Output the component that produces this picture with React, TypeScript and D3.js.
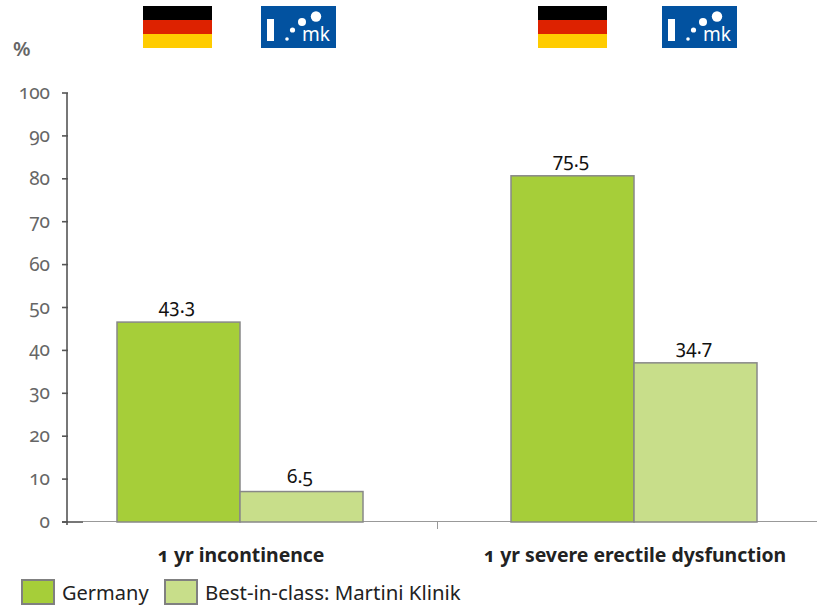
import React from "react";
import * as d3 from "d3";

const categories = ["1 yr incontinence", "1 yr severe erectile dysfunction"];
const seriesNames = ["Germany", "Best-in-class: Martini Klinik"];
const germanyBars = [46.6, 80.7];
const martiniBars = [7.1, 37.1];
const germanyLabels = ["43.3", "75.5"];
const martiniLabels = ["6.5", "34.7"];
const yTicks = d3.range(0, 101, 10);
const flagStripes = ["#000000", "#dd2200", "#ffcc00"];
const colors = ["#a6ce39", "#c8de8a"];
const font = "'Noto Sans', 'Open Sans', sans-serif";

const y = d3.scaleLinear().domain([0, 100]).range([522, 93]);
const x0 = d3.scaleBand().domain(categories).range([43, 831]);
const x1 = d3.scaleBand().domain(seriesNames).range([74, 320]);

function Flag({ x }: { x: number }) {
  return (
    <g>
      {flagStripes.map((c, i) => (
        <rect key={c} x={x} y={6 + i * 14} width={69} height={14} fill={c} />
      ))}
    </g>
  );
}

function Logo({ x }: { x: number }) {
  return (
    <g>
      <rect x={x} y={6} width={75} height={42} fill="#0252a0" />
      <rect x={x + 6} y={19} width={7} height={22} fill="#fff" />
      <circle cx={x + 26} cy={39} r={1.8} fill="#fff" />
      <circle cx={x + 31.5} cy={30} r={2.6} fill="#fff" />
      <circle cx={x + 41} cy={22} r={4} fill="#fff" />
      <circle cx={x + 55} cy={16.5} r={5.2} fill="#fff" />
      <text x={x + 41} y={41} fontFamily={font} fontSize={19} fill="#fff">mk</text>
    </g>
  );
}

export default function App() {
  const bw = x1.bandwidth();
  return (
    <svg width={817} height={607} viewBox="0 0 817 607" style={{ position: "absolute", left: 0, top: 0, background: "#fff" }}>
      <style>{`text{font-variant-numeric:oldstyle-nums;font-feature-settings:"onum" 1,"liga" 0;}`}</style>
      {[143, 538].map((v) => <Flag key={v} x={v} />)}
      {[261, 662].map((v) => <Logo key={v} x={v} />)}
      <text x={13} y={56} fontFamily={font} fontWeight={600} fontSize={20} fill="#666">%</text>

      <line x1={67} x2={67} y1={y(100)} y2={y(0) + 3} stroke="#777" strokeWidth={2} />
      {yTicks.map((t) => (
        <g key={t}>
          <line x1={62} x2={68} y1={y(t)} y2={y(t)} stroke="#555" strokeWidth={1.6} />
          <text x={50} y={y(t) + 6} textAnchor="end" fontFamily={font} fontSize={19} fontWeight={400} fill="#666">{t}</text>
        </g>
      ))}
      <line x1={62} x2={83} y1={y(0)} y2={y(0)} stroke="#555" strokeWidth={1.6} />
      <line x1={83} x2={817} y1={y(0) - 0.5} y2={y(0) - 0.5} stroke="#999" strokeWidth={1} />
      <line x1={437.5} x2={437.5} y1={y(0)} y2={y(0) + 7} stroke="#999" strokeWidth={1} />

      {categories.map((c, i) => {
        const gx = x0(c)!;
        const vals = [germanyBars[i], martiniBars[i]];
        const labs = [germanyLabels[i], martiniLabels[i]];
        return (
          <g key={c}>
            {seriesNames.map((s, j) => (
              <g key={s}>
                <rect x={gx + x1(s)!} y={y(vals[j])} width={bw} height={y(0) - y(vals[j])} fill={colors[j]} stroke="#888" strokeWidth={1.5} />
                <text x={gx + x1(s)! + bw / 2 - 1.5} y={y(vals[j]) - 9} textAnchor="middle" fontFamily={font} fontSize={19} fill="#111">{labs[j]}</text>
              </g>
            ))}
            <text x={gx + 198} y={562} textAnchor="middle" fontFamily={font} fontWeight={700} fontSize={19.4} fill="#222">{c}</text>
          </g>
        );
      })}

      <rect x={22} y={580} width={32} height={24} fill={colors[0]} stroke="#808080" strokeWidth={2} />
      <text x={62} y={600} fontFamily={font} fontSize={20} fill="#222">{seriesNames[0]}</text>
      <rect x={165} y={580} width={32} height={24} fill={colors[1]} stroke="#808080" strokeWidth={2} />
      <text x={205} y={600} fontFamily={font} fontSize={20.4} fill="#222">{seriesNames[1]}</text>
    </svg>
  );
}
